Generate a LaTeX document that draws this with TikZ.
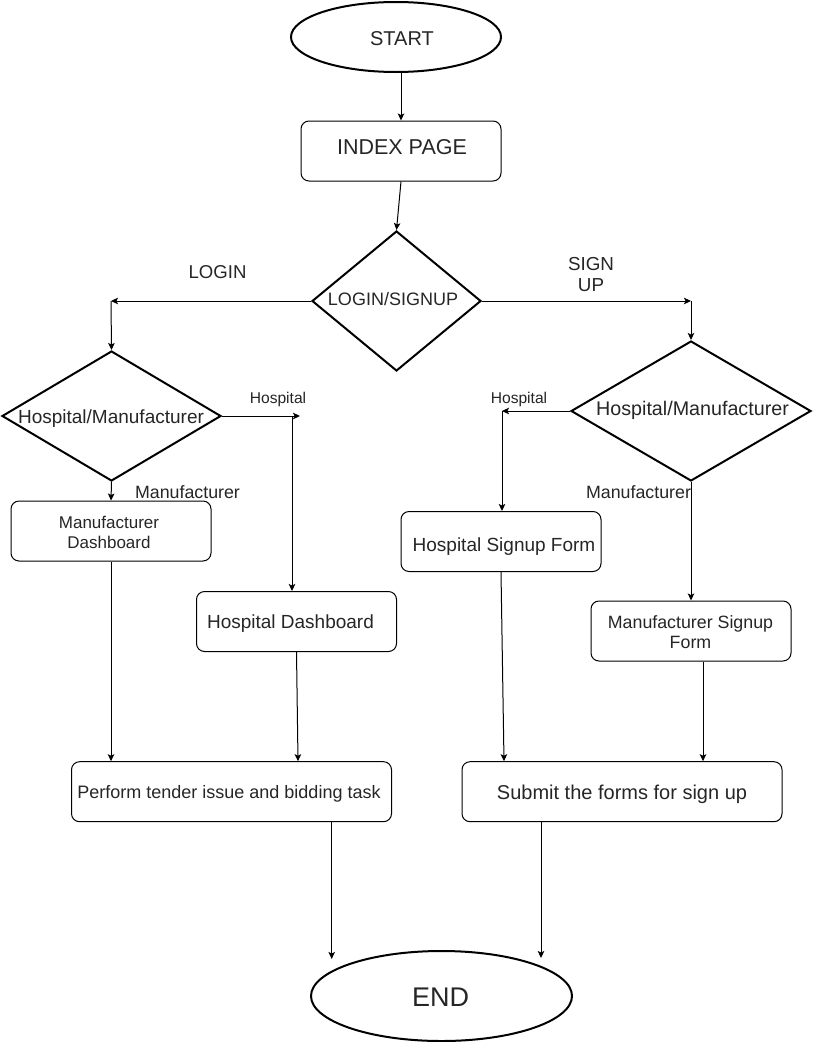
\documentclass[tikz,border=0pt]{standalone}
\usepackage{fontspec}
\setmainfont{Liberation Sans}
\usetikzlibrary{shapes.geometric,arrows.meta,calc}
\tikzset{
  arr/.style={draw=black, line width=1pt, -{Stealth[length=7pt,width=6.5pt,inset=1.5pt]}},
  box/.style={draw=black, line width=1pt, rounded corners=8pt, minimum width=200pt, minimum height=60pt, inner sep=0pt},
  dec/.style={draw=black, diamond, line width=2pt, inner sep=0pt},
  term/.style={draw=black, ellipse, line width=2pt, inner sep=0pt},
  txt/.style={inner sep=0pt, anchor=base, align=center, text=black!85},
}
\begin{document}
\begin{tikzpicture}[x=1pt,y=-1pt]
\useasboundingbox[fill=white] (0,0) rectangle (812,1042);

% shapes
\node[term, minimum width=210pt, minimum height=70pt] (start) at (396,37) {};
\node[box] (index) at (401,151) {};
\node[dec, minimum width=169pt, minimum height=140pt] (d1) at (396.5,301) {};
\node[dec, minimum width=219pt, minimum height=130pt] (d2) at (111.5,416) {};
\node[dec, minimum width=240pt, minimum height=140pt] (d3) at (691,411) {};
\node[box] (md) at (111,531) {};
\node[box] (hd) at (296.5,621.5) {};
\node[box] (hs) at (501,541.5) {};
\node[box] (ms) at (691,631) {};
\node[box, minimum width=320pt] (pt) at (231.5,791.7) {};
\node[box, minimum width=320pt] (su) at (622,791.7) {};
\node[term, minimum width=261pt, minimum height=90pt] (end) at (441.5,996) {};

% texts in shapes
\node[txt, font=\fontsize{20}{24}\selectfont] (tstart) at (402,45) {START};
\node[txt, font=\fontsize{21.5}{26}\selectfont] (tindex) at (402,154) {INDEX PAGE};
\node[txt, font=\fontsize{18}{22}\selectfont] (td1) at (393,305.5) {LOGIN/SIGNUP};
\node[txt, font=\fontsize{19}{23}\selectfont] (td2) at (111,423) {Hospital/Manufacturer};
\node[txt, font=\fontsize{19.7}{23}\selectfont] (td3) at (692.5,415.7) {Hospital/Manufacturer};
\node[txt, font=\fontsize{17}{20}\selectfont] (tmd) at (109,548) {Manufacturer\\Dashboard};
\node[txt, font=\fontsize{19}{23}\selectfont] (thd) at (290.5,628) {Hospital Dashboard};
\node[txt, font=\fontsize{19}{23}\selectfont] (ths) at (504,551.7) {Hospital Signup Form};
\node[txt, font=\fontsize{17.8}{20}\selectfont] (tms) at (690.5,648) {Manufacturer Signup\\Form};
\node[txt, font=\fontsize{18}{22}\selectfont] (tpt) at (229,798) {Perform tender issue and bidding task};
\node[txt, font=\fontsize{20}{24}\selectfont] (tsu) at (622,799) {Submit the forms for sign up};
\node[txt, font=\fontsize{27}{32}\selectfont] (tend) at (440.5,1006) {END};

% connector labels
\node[txt, font=\fontsize{18.6}{22}\selectfont] (llogin) at (217.5,278) {LOGIN};
\node[txt, font=\fontsize{18.8}{21}\selectfont] (lsign) at (591,291.7) {SIGN\\UP};
\node[txt, font=\fontsize{15.6}{19}\selectfont] (lh1) at (278,403) {Hospital};
\node[txt, font=\fontsize{15.6}{19}\selectfont] (lh2) at (519,403) {Hospital};
\node[txt, font=\fontsize{17.8}{21}\selectfont] (lm1) at (187.5,498) {Manufacturer};
\node[txt, font=\fontsize{17.8}{21}\selectfont] (lm2) at (638.5,498) {Manufacturer};

% bend points
\coordinate (cL) at (111,301);
\coordinate (cR) at (691,301);
\coordinate (cH1) at (300,416);
\coordinate (cV1) at (292,416);
\coordinate (cH2) at (502,411);
\coordinate (endL) at (331.7,959);
\coordinate (endR) at (541,958);

% connectors
\draw[arr] (index.north |- start.south) -- (index.north);
\draw[arr] (index.south) -- (d1.north);
\draw[arr] (d1.west) -- (cL);
\draw[arr] (cL) -- (d2.north);
\draw[arr] (d2.east) -- (cH1);
\draw[arr] (cV1) -- (cV1 |- hd.north);
\draw[arr] (d2.south) -- (md.north);
\draw[arr] (md.south) -- (md.south |- pt.north);
\draw[arr] (hd.south) -- ($(hd.south |- pt.north)+(1.5,0)$);
\draw[arr] (pt.south -| endL) -- (endL);
\draw[arr] (d1.east) -- (cR);
\draw[arr] (cR) -- (d3.north);
\draw[arr] (d3.west) -- (cH2);
\draw[arr] (cH2) -- (cH2 |- hs.north);
\draw[arr] (d3.south) -- (d3.south |- ms.north);
\draw[arr] (hs.south) -- ($(hs.south |- su.north)+(3,0)$);
\draw[arr] ($(ms.south)+(12,0)$) -- ($(ms.south |- su.north)+(12,0)$);
\draw[arr] (su.south -| endR) -- (endR);
\end{tikzpicture}
\end{document}
